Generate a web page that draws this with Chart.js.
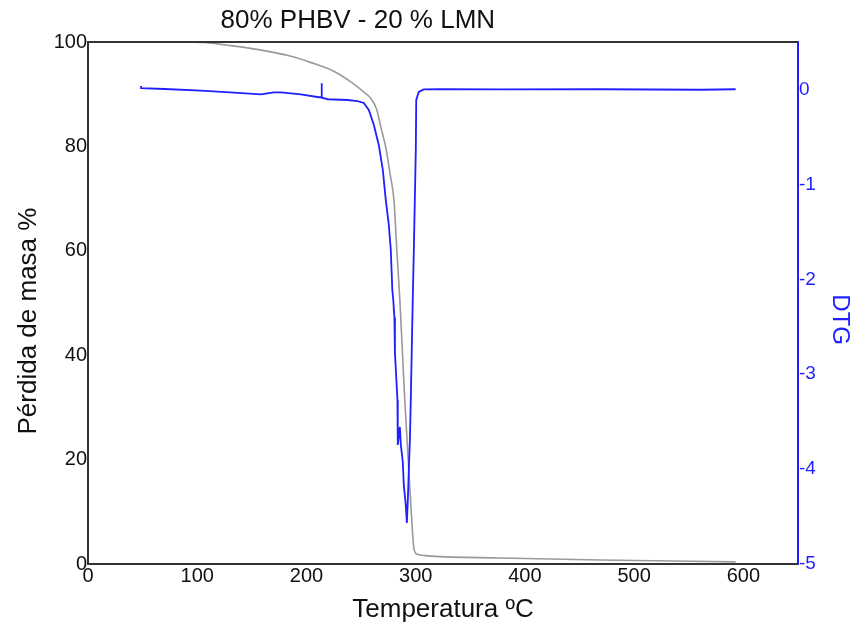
<!DOCTYPE html>
<html>
<head>
<meta charset="utf-8">
<script src="https://cdn.jsdelivr.net/npm/chart.js@4/dist/chart.umd.min.js"></script>
<style>
  html, body { margin: 0; padding: 0; background: #ffffff; }
  canvas { display: block; }
</style>
</head>
<body>
<canvas id="c" width="855" height="627"></canvas>
<script>
// ---- data ----
const chartTitle = '80% PHBV - 20 % LMN';
const xTitle = 'Temperatura ºC';
const yTitle = 'Pérdida de masa %';
const y2Title = 'DTG';

const xTicks = [0, 100, 200, 300, 400, 500, 600];
const yTicks = [0, 20, 40, 60, 80, 100];
const y2Ticks = [0, -1, -2, -3, -4, -5];

// TG curve (mass loss %)
const tgTemp = [94, 106, 131, 160, 185, 205, 225, 241, 252.5, 258.9, 264.4, 268.1, 273.1, 276.7, 280.1, 282.7, 285.5, 290.0, 293.7, 296.4, 298.3, 301.0, 309.2, 313.8, 377.9, 469.4, 592.9];
const tgMass = [100, 99.9, 99.3, 98.4, 97.3, 96.0, 94.4, 92.3, 90.4, 89.2, 87.0, 83.7, 79.3, 74.5, 69.7, 60.2, 50.6, 31.4, 18.0, 8.4, 3.1, 1.9, 1.6, 1.5, 1.15, 0.77, 0.4];

// DTG curve
const dtgTemp = [48.5, 48.6, 70, 103.4, 130, 158.3, 170.2, 176.6, 194.9, 211.3, 213.6, 213.8, 214.2, 219.3, 237.6, 246.8, 252.5, 257.1, 261.7, 266.2, 269.9, 272.6, 275.4, 277.2, 278.6, 279.5, 280.3, 279.8, 280.5, 281.0, 283.3, 283.6, 285.5, 286.4, 288.2, 289.1, 290.9, 291.9, 292.8, 293.7, 294.7, 295.5, 296.4, 297.3, 298.3, 299.2, 300.1, 300.5, 302.8, 307.4, 323.0, 377.9, 469.4, 560.8, 592.9];
const dtgValue = [0.037, 0.013, 0.005, -0.013, -0.03, -0.051, -0.030, -0.030, -0.051, -0.082, -0.082, 0.065, -0.085, -0.103, -0.111, -0.124, -0.142, -0.216, -0.374, -0.585, -0.848, -1.164, -1.428, -1.692, -2.113, -2.22, -2.36, -2.30, -2.40, -2.777, -3.272, -3.746, -3.556, -3.746, -3.925, -4.167, -4.378, -4.568, -4.326, -4.009, -3.693, -3.272, -2.745, -2.218, -1.692, -1.164, -0.637, -0.111, -0.026, 0.0, 0.002, 0.0, 0.002, -0.003, 0.002];

// ---- build chart ----
const tgData = tgTemp.map((t, i) => ({ x: t, y: tgMass[i] }));
const dtgData = dtgTemp.map((t, i) => ({ x: t, y: dtgValue[i] }));

const FONT = 'Liberation Sans, Arial, Helvetica, sans-serif';
const BLUE = '#1f1fff';
const DARK = '#333333';

const framePlugin = {
  id: 'frameAndTitle',
  afterDraw(chart) {
    const { ctx, chartArea } = chart;
    ctx.save();
    // top frame line
    ctx.strokeStyle = DARK;
    ctx.lineWidth = 2;
    ctx.beginPath();
    ctx.moveTo(chartArea.left, chartArea.top);
    ctx.lineTo(chartArea.right, chartArea.top);
    ctx.stroke();
    // chart title
    ctx.fillStyle = '#111111';
    ctx.font = '26px ' + FONT;
    ctx.textAlign = 'center';
    ctx.textBaseline = 'middle';
    ctx.fillText(chartTitle, chartArea.left + (chartArea.right - chartArea.left) * 0.38, 21);
    ctx.restore();
  }
};

new Chart(document.getElementById('c'), {
  type: 'line',
  data: {
    datasets: [
      {
        label: 'DTG',
        data: dtgData,
        yAxisID: 'y2',
        borderColor: BLUE,
        borderWidth: 1.8,
        pointRadius: 0,
        tension: 0,
        fill: false,
        order: 0
      },
      {
        label: 'TG',
        data: tgData,
        yAxisID: 'y',
        borderColor: '#9a9a9a',
        borderWidth: 1.6,
        pointRadius: 0,
        cubicInterpolationMode: 'monotone',
        fill: false,
        order: 1
      }
    ]
  },
  options: {
    responsive: false,
    animation: false,
    devicePixelRatio: 1,
    layout: { padding: { top: 42, left: 0, right: 0, bottom: 0 } },
    plugins: {
      legend: { display: false },
      tooltip: { enabled: false },
      title: { display: false }
    },
    scales: {
      x: {
        type: 'linear',
        min: 0,
        max: 650,
        afterBuildTicks: (s) => { s.ticks = xTicks.map(v => ({ value: v })); },
        afterFit: (s) => { s.height = 63; },
        grid: { display: false, drawTicks: false },
        border: { display: true, color: DARK, width: 2 },
        ticks: { color: '#111111', font: { family: FONT, size: 20 }, padding: 0, maxRotation: 0 },
        title: { display: true, text: xTitle, color: '#111111', font: { family: FONT, size: 26 }, padding: { top: 0, bottom: 2 } }
      },
      y: {
        type: 'linear',
        position: 'left',
        min: 0,
        max: 100,
        afterBuildTicks: (s) => { s.ticks = yTicks.map(v => ({ value: v })); },
        afterFit: (s) => { s.width = 88; },
        grid: { display: false, drawTicks: false },
        border: { display: true, color: DARK, width: 2 },
        ticks: { color: '#111111', font: { family: FONT, size: 20 }, padding: 1 },
        title: { display: true, text: yTitle + '     ', color: '#111111', font: { family: FONT, size: 26 }, padding: { top: 13, bottom: 0 } }
      },
      y2: {
        type: 'linear',
        position: 'right',
        min: -5,
        max: 0.5,
        afterBuildTicks: (s) => { s.ticks = y2Ticks.map(v => ({ value: v })); },
        afterFit: (s) => { s.width = 57; },
        grid: { display: false, drawTicks: false },
        border: { display: true, color: BLUE, width: 2 },
        ticks: { color: BLUE, font: { family: FONT, size: 19 }, padding: 1 },
        title: { display: true, text: '     ' + y2Title, color: BLUE, font: { family: FONT, size: 24 }, padding: { top: 1, bottom: 0 } }
      }
    }
  },
  plugins: [framePlugin]
});
</script>
</body>
</html>
